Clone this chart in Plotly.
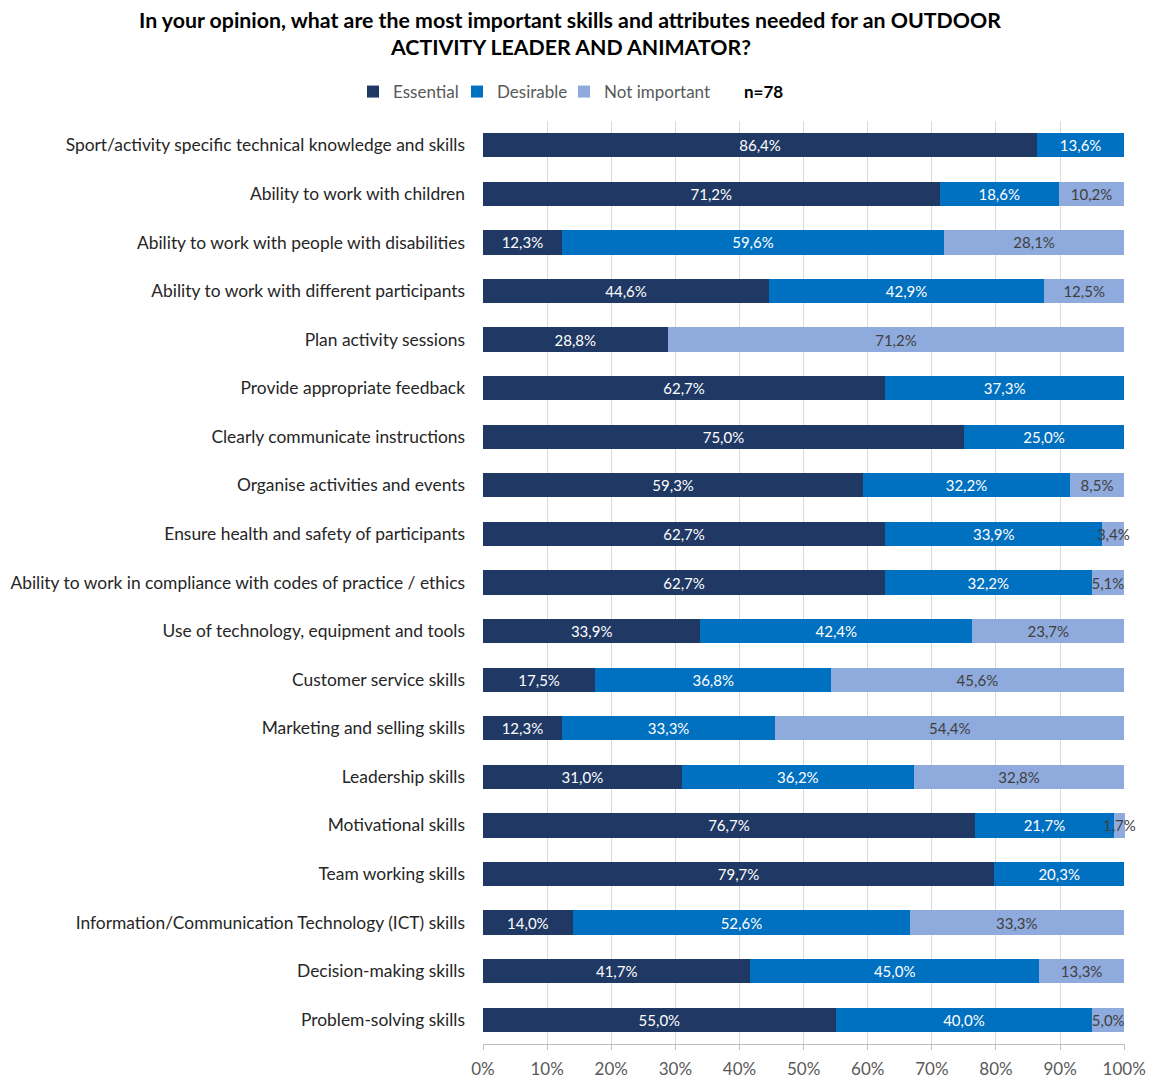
import plotly.graph_objects as go

categories = [
    "Sport/activity specific technical knowledge and skills",
    "Ability to work with children",
    "Ability to work with people with disabilities",
    "Ability to work with different participants",
    "Plan activity sessions",
    "Provide appropriate feedback",
    "Clearly communicate instructions",
    "Organise activities and events",
    "Ensure health and safety of participants",
    "Ability to work in compliance with codes of practice / ethics",
    "Use of technology, equipment and tools",
    "Customer service skills",
    "Marketing and selling skills",
    "Leadership skills",
    "Motivational skills",
    "Team working skills",
    "Information/Communication Technology (ICT) skills",
    "Decision-making skills",
    "Problem-solving skills",
]
essential = [86.4, 71.2, 12.3, 44.6, 28.8, 62.7, 75.0, 59.3, 62.7, 62.7, 33.9, 17.5, 12.3, 31.0, 76.7, 79.7, 14.0, 41.7, 55.0]
desirable = [13.6, 18.6, 59.6, 42.9, None, 37.3, 25.0, 32.2, 33.9, 32.2, 42.4, 36.8, 33.3, 36.2, 21.7, 20.3, 52.6, 45.0, 40.0]
not_important = [None, 10.2, 28.1, 12.5, 71.2, None, None, 8.5, 3.4, 5.1, 23.7, 45.6, 54.4, 32.8, 1.7, None, 33.3, 13.3, 5.0]
tick_vals = [0, 10, 20, 30, 40, 50, 60, 70, 80, 90, 100]
tick_text = ["0%", "10%", "20%", "30%", "40%", "50%", "60%", "70%", "80%", "90%", "100%"]
title_lines = [
    "In your opinion, what are the most important skills and attributes needed for an OUTDOOR",
    "ACTIVITY LEADER AND ANIMATOR?",
]

FONT = "Lato, 'Open Sans', sans-serif"

# page is offset by the browser's 8px body margin
W, H = 1151, 1073
ML, MT, PW, PH = 475, 113, 642, 923


def fmt(vals):
    return ["" if v is None else f"{v:.1f}%".replace(".", ",") for v in vals]


series = [
    ("Essential", essential, "#203864", "white", 59),
    ("Desirable", desirable, "#0070C0", "white", 62),
    ("Not important", not_important, "#8FAADC", "#404040", None),
]

fig = go.Figure()
for name, vals, color, tcolor, lw in series:
    bar = go.Bar(
        name=name,
        y=categories,
        x=vals,
        orientation="h",
        marker=dict(color=color, line=dict(width=0)),
        text=fmt(vals),
        textposition="inside",
        insidetextanchor="middle",
        textangle=0,
        constraintext="none",
        insidetextfont=dict(color=tcolor, size=15, family=FONT),
        cliponaxis=False,
        hoverinfo="x+y+name",
    )
    if lw is not None:
        bar.legendwidth = lw
    fig.add_trace(bar)

annotations = []
for line, ypx in zip(title_lines, [12, 39]):
    annotations.append(dict(
        text=f"<b>{line}</b>",
        xref="paper", yref="paper",
        x=(562 - ML) / PW, y=1 + (MT - ypx) / PH,
        xanchor="center", yanchor="middle", showarrow=False,
        borderpad=0,
        font=dict(size=21.3, color="black", family=FONT),
    ))
annotations.append(dict(
    text="<b>n=78</b>", xref="paper", yref="paper",
    x=(755 - ML) / PW, y=1 + (MT - 84) / PH,
    xanchor="center", yanchor="middle", showarrow=False,
    font=dict(size=17, color="black", family=FONT),
))

fig.update_layout(
    width=W,
    height=H,
    barmode="stack",
    bargap=0.5,
    plot_bgcolor="white",
    paper_bgcolor="white",
    font=dict(family=FONT, size=17, color="#262626"),
    margin=dict(l=ML, r=W - ML - PW, t=MT, b=H - MT - PH, pad=0, autoexpand=False),
    legend=dict(
        orientation="h",
        x=345 / W, xanchor="left", xref="container",
        y=1 - 84 / H, yanchor="middle", yref="container",
        font=dict(size=17, color="#595959", family=FONT),
        itemwidth=30,
        traceorder="normal",
    ),
    annotations=annotations,
)

fig.update_xaxes(
    range=[0, 100.12],
    tickvals=tick_vals,
    ticktext=tick_text,
    showgrid=True,
    gridcolor="#D9D9D9",
    gridwidth=1,
    showline=True,
    linecolor="#BFBFBF",
    ticks="outside",
    ticklen=5,
    tickcolor="#BFBFBF",
    ticklabelstandoff=5,
    tickfont=dict(size=17, color="#595959"),
    zeroline=False,
    automargin=False,
    fixedrange=True,
)
fig.update_yaxes(
    autorange="reversed",
    showgrid=False,
    showline=False,
    ticks="",
    ticklabelstandoff=17,
    tickfont=dict(size=17.4, color="#262626"),
    automargin=False,
    fixedrange=True,
)

fig.write_html("out.html")
